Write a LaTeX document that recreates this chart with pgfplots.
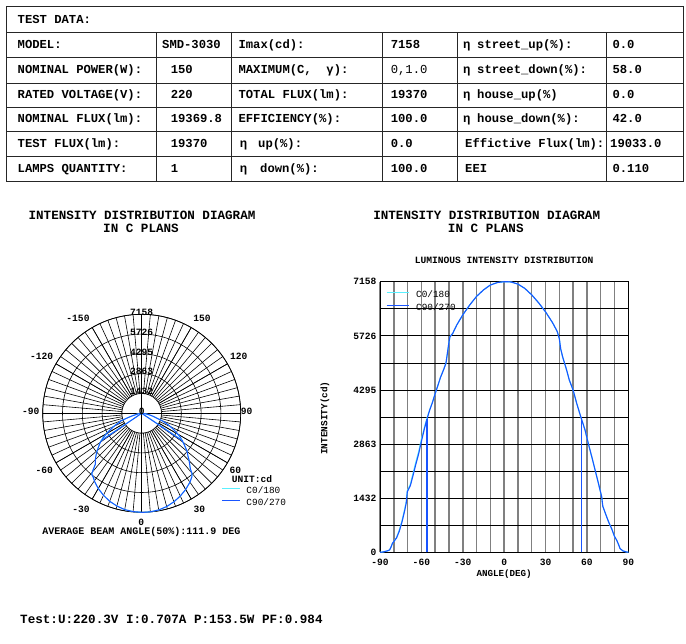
\documentclass[border=0pt]{standalone}
\usepackage{fontspec}
\setmainfont{Liberation Mono}
\usepackage{pgfplots}
\pgfplotsset{compat=1.18}
\usepackage{pgfplotstable}
\usepgfplotslibrary{polar}
\usetikzlibrary{calc}

\definecolor{cz}{RGB}{90,240,255}
\definecolor{cn}{RGB}{25,85,255}

\newcommand\fT{\fontsize{12.2}{14}\selectfont\bfseries}
\newcommand\fH{\fontsize{12.6}{14}\selectfont\bfseries}
\newcommand\fS{\fontsize{9.6}{11}\selectfont\bfseries}
\newcommand\fL{\fontsize{9.4}{11}\selectfont}

% luminous intensity (cd) against angle (deg)
\pgfplotstableread{
a     c0    c90
-90   0     0
-88   8     8
-86   25    25
-84   45    45
-83   65    65
-82   140   140
-81   235   235
-80   285   285
-78   390   380
-76   590   560
-74   840   810
-72   1160  1120
-71   1330  1300
-70.2 1630  1600
-69   1720  1690
-68   1800  1760
-66   2100  2040
-64   2390  2330
-62   2660  2600
-60   2990  2930
-58   3280  3240
-56   3540  3520
-54   3770  3760
-52   3970  3960
-50   4200  4200
-48   4420  4420
-46   4640  4640
-44   4820  4820
-42.2 5000  5000
-41   5300  5300
-40   5560  5560
-39.3 5700  5700
-37.3 5790  5790
-34.4 6010  6010
-30   6280  6280
-25   6540  6540
-20   6770  6770
-15   6940  6940
-10   7070  7070
-5    7135  7135
0     7158  7158
2     7158  7158
5     7150  7150
10    7095  7095
15    6980  6980
20    6810  6810
25    6600  6600
30    6360  6360
35    6080  6080
38.5  5840  5840
40    5650  5650
41    5380  5380
42.4  5170  5170
45.3  4820  4820
47.2  4560  4560
50    4290  4290
52.6  3940  3940
55.5  3590  3590
58.6  3240  3240
61    2880  2880
63.5  2530  2530
65.9  2180  2180
68.3  1830  1830
70.7  1470  1470
71.5  1220  1220
72.5  1120  1120
74.3  940   940
76    780   780
78    620   620
80    420   420
81.6  320   320
83    200   200
84    100   100
86    40    40
88    15    15
90    0     0
}\lid

\begin{document}
\begin{tikzpicture}[x=1pt,y=1pt]
\useasboundingbox (0,0) rectangle (686,-644);

% ---- test data table
\begin{scope}[black!85, line width=0.7pt]
  \draw (6.6,-6.6) rectangle (683,-181.5);
  \foreach \y in {32.8,56.9,83.1,107.2,131.2,156.6} \draw (6.6,-\y) -- (683,-\y);
  \foreach \x in {156.6,231.8,381.9,457.1,605.9} \draw (\x,-32.8) -- (\x,-181.5);
\end{scope}
\begin{scope}[every node/.style={anchor=base west, inner sep=0pt, font=\fT}]
  \node at (17.5,-23.4) {TEST DATA:};
  % row 1
  \node at (17.5,-48.6) {MODEL:};
  \node at (162,-48.6) {SMD-3030};
  \node at (238.4,-48.6) {Imax(cd):};
  \node at (390.6,-48.6) {7158};
  \node at (463,-48.6) {η};
  \node at (477,-48.6) {street\_up(\%):};
  \node at (612.4,-48.6) {0.0};
  % row 2
  \node at (17.5,-73.7) {NOMINAL POWER(W):};
  \node at (170.6,-73.7) {150};
  \node at (238.4,-73.7) {MAXIMUM(C,\ \ γ):};
  \node[font=\fontsize{12.2}{14}\selectfont] at (390.6,-73.7) {0,1.0};
  \node at (463,-73.7) {η};
  \node at (477,-73.7) {street\_down(\%):};
  \node at (612.4,-73.7) {58.0};
  % row 3
  \node at (17.5,-98.9) {RATED VOLTAGE(V):};
  \node at (170.6,-98.9) {220};
  \node at (238.4,-98.9) {TOTAL FLUX(lm):};
  \node at (390.6,-98.9) {19370};
  \node at (463,-98.9) {η};
  \node at (477,-98.9) {house\_up(\%)};
  \node at (612.4,-98.9) {0.0};
  % row 4
  \node at (17.5,-122.9) {NOMINAL FLUX(lm):};
  \node at (170.6,-122.9) {19369.8};
  \node at (238.4,-122.9) {EFFICIENCY(\%):};
  \node at (390.6,-122.9) {100.0};
  \node at (463,-122.9) {η};
  \node at (477,-122.9) {house\_down(\%):};
  \node at (612.4,-122.9) {42.0};
  % row 5
  \node at (17.5,-147.6) {TEST FLUX(lm):};
  \node at (170.6,-147.6) {19370};
  \node at (239.7,-147.6) {η};
  \node at (258,-147.6) {up(\%):};
  \node at (390.6,-147.6) {0.0};
  \node at (465,-147.6) {Effictive Flux(lm):};
  \node at (610,-147.6) {19033.0};
  % row 6
  \node at (17.5,-172.7) {LAMPS QUANTITY:};
  \node at (170.6,-172.7) {1};
  \node at (239.7,-172.7) {η};
  \node at (260,-172.7) {down(\%):};
  \node at (390.6,-172.7) {100.0};
  \node at (465,-172.7) {EEI};
  \node at (612.4,-172.7) {0.110};
\end{scope}

% ---- titles
\node[font=\fH] at (142,-215) {INTENSITY DISTRIBUTION DIAGRAM};
\node[font=\fH] at (141,-228.3) {IN C PLANS};
\node[font=\fH] at (486.7,-215) {INTENSITY DISTRIBUTION DIAGRAM};
\node[font=\fH] at (485.8,-228.3) {IN C PLANS};

% ---- polar diagram
\begin{polaraxis}[
  at={(141.7pt,-413.3pt)}, anchor=center,
  scale only axis, width=198pt, height=198pt,
  xmin=0, xmax=360, ymin=0, ymax=7158,
  xtick={0,30,...,330}, minor xtick={0,5,...,355},
  ytick={1432,2863,4295,5726,7158},
  xticklabels={}, yticklabels={},
  major tick length=0pt, minor tick length=0pt,
  grid=both,
  major grid style={black, line width=0.6pt},
  minor grid style={black, line width=0.6pt},
  axis line style={black, line width=0.7pt},
  clip=false,
  legend style={draw=none, fill=none, inner sep=0pt, outer sep=0pt,
    at={(axis description cs:0.904,0.1263)}, anchor=north west,
    row sep=3.4pt, column sep=0pt, font=\fL,
    nodes={inner sep=0pt, text height=6.5pt, text depth=1.5pt}},
  legend cell align=left,
  legend image code/.code={\draw[#1, line width=1pt] (0pt,2.5pt) -- (17.6pt,2.5pt);\path (23.8pt,0pt);},
]
  \fill[white] let \p1=(axis cs:0,0), \p2=(axis cs:0,1432),
    \n1={veclen(\x2-\x1,\y2-\y1)} in (\p1) circle[radius=\n1];
  \draw[black, line width=0.6pt] let \p1=(axis cs:0,0), \p2=(axis cs:0,1432),
    \n1={veclen(\x2-\x1,\y2-\y1)} in (\p1) circle[radius=\n1];
  \draw[black, line width=0.6pt] (axis cs:0,7158) -- (axis cs:180,7158);
  \draw[black, line width=0.6pt] (axis cs:90,7158) -- (axis cs:270,7158);
  \addplot[cz, line width=1pt] table[x expr=\thisrow{a}-90, y=c0] {\lid};
  \addlegendentry{C0/180}
  \addplot[cn, line width=1pt] table[x expr=\thisrow{a}-90, y=c90] {\lid};
  \addlegendentry{C90/270}
  \addplot[cz, line width=1pt, forget plot] coordinates {(-146.3,0) (-146.3,3540)};
  \addplot[cz, line width=1pt, forget plot] coordinates {(-33.7,0) (-33.7,3570)};
  \addplot[cn, line width=1pt, forget plot] coordinates {(-145.9,0) (-145.9,3520)};
  \addplot[cn, line width=1pt, forget plot] coordinates {(-34.0,0) (-34.0,3590)};
  \node[font=\fS, inner sep=0pt, yshift=2pt] at (axis cs:90,0) {0};
  \node[font=\fS, inner sep=0pt, yshift=2pt] at (axis cs:90,1432) {1432};
  \node[font=\fS, inner sep=0pt, yshift=2pt] at (axis cs:90,2863) {2863};
  \node[font=\fS, inner sep=0pt, yshift=2pt] at (axis cs:90,4295) {4295};
  \node[font=\fS, inner sep=0pt, yshift=2pt] at (axis cs:90,5726) {5726};
  \node[font=\fS, inner sep=0pt, yshift=2pt] at (axis cs:90,7158) {7158};
\end{polaraxis}
\begin{scope}[every node/.style={font=\fS, inner sep=0pt}]
  \node at (78,-318.3) {-150};
  \node at (202,-318.3) {150};
  \node at (41.7,-356.7) {-120};
  \node at (238.7,-356.7) {120};
  \node at (30.7,-411) {-90};
  \node at (246.7,-411) {90};
  \node at (44.3,-470.7) {-60};
  \node at (235.3,-470) {60};
  \node at (81,-509) {-30};
  \node at (199.3,-509) {30};
  \node at (141.3,-522.7) {0};
  \node at (252,-479) {UNIT:cd};
\end{scope}
\node[font=\fontsize{10}{12}\selectfont\bfseries] at (141.5,-532.3) {AVERAGE BEAM ANGLE(50\%):111.9 DEG};

% ---- cartesian diagram
\begin{axis}[
  at={(380pt,-552.3pt)}, anchor=south west,
  scale only axis, width=248.3pt, height=270.6pt,
  xmin=-90, xmax=90, ymin=0, ymax=7158,
  xtick={-90,-60,...,90}, xticklabels={-90,-60,-30,0,30,60,90},
  minor xtick={-80,-70,-50,-40,-20,-10,10,20,40,50,70,80},
  ytick={0,1432,2863,4295,5726,7158},
  yticklabels={0,1432,2863,4295,5726,7158},
  minor ytick={716,2147,3579,5010,6442},
  grid=both,
  major grid style={black!50, line width=1.5pt},
  minor grid style={black!50, line width=1.5pt},
  y grid style={black, line width=0.75pt},
  major tick length=0pt, minor tick length=0pt,
  axis line style={black, line width=0.8pt},
  ticklabel style={font=\fS},
  xticklabel style={yshift=-3pt},
  title={LUMINOUS INTENSITY DISTRIBUTION},
  title style={font=\fS, at={(axis description cs:0.5,1)}, anchor=center, yshift=15.7pt},
  xlabel={ANGLE(DEG)}, ylabel={INTENSITY(cd)},
  xlabel style={font=\fontsize{9.2}{11}\selectfont\bfseries, at={(axis description cs:0.5,-0.08)}, anchor=center},
  ylabel style={font=\fontsize{9.4}{11}\selectfont\bfseries, at={(axis description cs:-0.2215,0.496)}, anchor=center},
  legend style={draw=none, fill=none, inner sep=0pt, outer sep=0pt,
    at={(axis description cs:0.0242,0.9667)}, anchor=north west,
    row sep=5pt, column sep=0pt, font=\fL,
    nodes={inner sep=0pt, text height=6.5pt, text depth=1.5pt}},
  legend cell align=left,
  legend image code/.code={\draw[#1, line width=1.2pt] (0pt,2.5pt) -- (22.7pt,2.5pt);\path (29pt,0pt);},
]
  \addplot[cz, line width=1.1pt] table[x=a, y=c0] {\lid};
  \addlegendentry{C0/180}
  \addplot[cn, line width=1.1pt] table[x=a, y=c90] {\lid};
  \addlegendentry{C90/270}
  \addplot[cz, line width=1.1pt, forget plot] coordinates {(-56.3,0) (-56.3,3540)};
  \addplot[cz, line width=1.1pt, forget plot] coordinates {(56.3,0) (56.3,3570)};
  \addplot[cn, line width=1.1pt, forget plot] coordinates {(-55.9,0) (-55.9,3520)};
  \addplot[cn, line width=1.1pt, forget plot] coordinates {(56.0,0) (56.0,3590)};
\end{axis}

\node[anchor=base west, inner sep=0pt, font=\fH] at (20,-623) {Test:U:220.3V I:0.707A P:153.5W PF:0.984};
\end{tikzpicture}
\end{document}
